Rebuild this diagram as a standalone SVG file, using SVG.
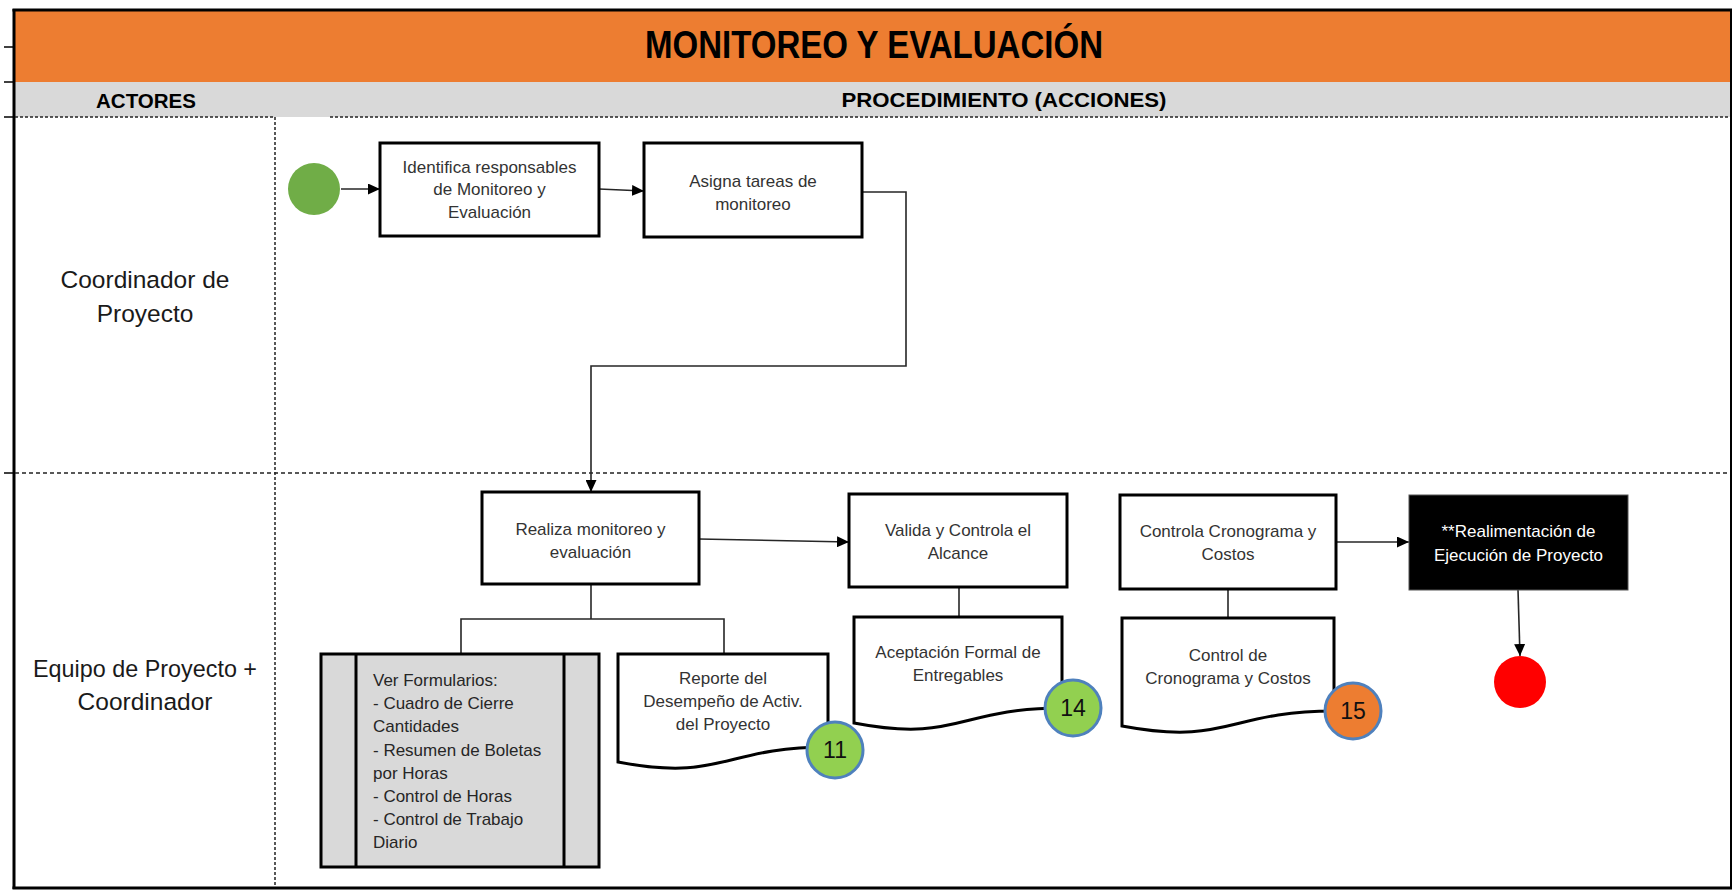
<svg xmlns="http://www.w3.org/2000/svg" width="1734" height="890" viewBox="0 0 1734 890">
  <style>
    .frame { stroke: #000; stroke-width: 3; fill: none; }
    .tick { stroke: #000; stroke-width: 1.5; }
    .dotted { stroke: #222; stroke-width: 1.5; stroke-dasharray: 3 2; fill: none; }
    .dashed { stroke: #222; stroke-width: 1.5; stroke-dasharray: 4 3; fill: none; }
    .box { fill: #fff; stroke: #000; stroke-width: 3; }
    .doc { fill: #fff; stroke: #000; stroke-width: 3; }
    .proc { fill: #d9d9d9; stroke: #000; stroke-width: 3; }
    .conn { stroke: #262626; stroke-width: 1.6; fill: none; }
    .badge { stroke: #4f81bd; stroke-width: 3; }
    .hdr { font-family: "Liberation Sans", Arial, sans-serif; font-weight: bold; fill: #000; text-anchor: middle; }
    .lane { font-family: "Liberation Sans", Arial, sans-serif; font-size: 24.5px; fill: #1a1a1a; text-anchor: middle; }
    .t { font-family: "Liberation Sans", Arial, sans-serif; font-size: 17px; fill: #333; text-anchor: middle; }
    .tl { font-family: "Liberation Sans", Arial, sans-serif; font-size: 17px; fill: #262626; }
    .num { font-family: "Liberation Sans", Arial, sans-serif; font-size: 23px; fill: #111; text-anchor: middle; }
  </style>
  <defs>
    <marker id="arrow" markerUnits="userSpaceOnUse" markerWidth="12" markerHeight="11" refX="12" refY="5.5" orient="auto">
      <path d="M0,0 L12,5.5 L0,11 Z" fill="#000"/>
    </marker>
  </defs>

  <rect width="1734" height="890" fill="#fff"/>

  <!-- header bands -->
  <g id="header">
    <rect x="14" y="10" width="1717" height="72" fill="#ed7d31"/>
    <rect x="14" y="82" width="1717" height="35" fill="#d9d9d9"/>
    <text class="hdr" x="874" y="58" font-size="38" textLength="458" lengthAdjust="spacingAndGlyphs">MONITOREO Y EVALUACIÓN</text>
    <text class="hdr" x="146" y="108" font-size="21" textLength="100" lengthAdjust="spacingAndGlyphs">ACTORES</text>
    <text class="hdr" x="1004" y="107" font-size="21" textLength="325" lengthAdjust="spacingAndGlyphs">PROCEDIMIENTO (ACCIONES)</text>
  </g>

  <!-- outer frame and row ticks -->
  <g id="frame">
    <line class="frame" x1="12.5" y1="10" x2="1732" y2="10"/>
    <line class="frame" x1="14" y1="9" x2="14" y2="889"/>
    <line class="frame" x1="12.5" y1="888" x2="1732" y2="888"/>
    <line x1="1731" y1="9" x2="1731" y2="889" stroke="#000" stroke-width="2"/>
    <line class="tick" x1="4" y1="47" x2="14" y2="47"/>
    <line class="tick" x1="4" y1="82" x2="14" y2="82"/>
    <line class="tick" x1="4" y1="117" x2="14" y2="117"/>
    <line class="tick" x1="4" y1="473" x2="14" y2="473"/>
  </g>

  <!-- swimlane dividers -->
  <g id="lanes">
    <line class="dotted" x1="15" y1="117" x2="275" y2="117"/>
    <line class="dotted" x1="330" y1="117" x2="1730" y2="117"/>
    <line class="dotted" x1="275" y1="117" x2="275" y2="887"/>
    <line class="dashed" x1="15" y1="473" x2="1730" y2="473"/>
    <text class="lane" x="145" y="288" textLength="169" lengthAdjust="spacingAndGlyphs">Coordinador de</text>
    <text class="lane" x="145" y="322">Proyecto</text>
    <text class="lane" x="145" y="677" textLength="224" lengthAdjust="spacingAndGlyphs">Equipo de Proyecto +</text>
    <text class="lane" x="145" y="710">Coordinador</text>
  </g>

  <!-- connectors -->
  <g id="connectors">
    <line class="conn" x1="341" y1="189" x2="380" y2="189" marker-end="url(#arrow)"/>
    <line class="conn" x1="599" y1="189" x2="644" y2="191" marker-end="url(#arrow)"/>
    <polyline class="conn" points="862,192 906,192 906,366 591,366 591,492" marker-end="url(#arrow)"/>
    <line class="conn" x1="699" y1="539" x2="849" y2="542" marker-end="url(#arrow)"/>
    <line class="conn" x1="1336" y1="542" x2="1409" y2="542" marker-end="url(#arrow)"/>
    <line class="conn" x1="1518" y1="590" x2="1520" y2="656" marker-end="url(#arrow)"/>
    <polyline class="conn" points="591,584 591,619"/>
    <polyline class="conn" points="461,654 461,619 724,619 724,654"/>
    <line class="conn" x1="959" y1="587" x2="959" y2="617"/>
    <line class="conn" x1="1228" y1="589" x2="1228" y2="618"/>
  </g>

  <!-- start and end events -->
  <g id="start">
    <circle cx="314" cy="189" r="26" fill="#70ad47"/>
  </g>
  <g id="end">
    <circle cx="1520" cy="682" r="26" fill="#ff0000"/>
  </g>

  <g id="identifica">
    <rect class="box" x="380" y="143" width="219" height="93"/>
    <text class="t" x="489.5" y="173">Identifica responsables</text>
    <text class="t" x="489.5" y="195">de Monitoreo y</text>
    <text class="t" x="489.5" y="218">Evaluación</text>
  </g>

  <g id="asigna">
    <rect class="box" x="644" y="143" width="218" height="94"/>
    <text class="t" x="753" y="187">Asigna tareas de</text>
    <text class="t" x="753" y="210">monitoreo</text>
  </g>

  <g id="realiza">
    <rect class="box" x="482" y="492" width="217" height="92"/>
    <text class="t" x="590.5" y="535">Realiza monitoreo y</text>
    <text class="t" x="590.5" y="558">evaluación</text>
  </g>

  <g id="valida">
    <rect class="box" x="849" y="494" width="218" height="93"/>
    <text class="t" x="958" y="536">Valida y Controla el</text>
    <text class="t" x="958" y="559">Alcance</text>
  </g>

  <g id="controla">
    <rect class="box" x="1120" y="495" width="216" height="94"/>
    <text class="t" x="1228" y="537">Controla Cronograma y</text>
    <text class="t" x="1228" y="560">Costos</text>
  </g>

  <g id="realimentacion">
    <rect x="1409" y="495" width="219" height="95" fill="#000" stroke="#555" stroke-width="1"/>
    <text class="t" x="1518.5" y="537" fill="#fff" style="fill:#fff">**Realimentación de</text>
    <text class="t" x="1518.5" y="561" style="fill:#fff">Ejecución de Proyecto</text>
  </g>

  <g id="formularios">
    <rect class="proc" x="321" y="654" width="278" height="213"/>
    <line x1="356" y1="654" x2="356" y2="867" stroke="#000" stroke-width="3"/>
    <line x1="564" y1="654" x2="564" y2="867" stroke="#000" stroke-width="3"/>
    <text class="tl" x="373" y="686">Ver Formularios:</text>
    <text class="tl" x="373" y="709">- Cuadro de Cierre</text>
    <text class="tl" x="373" y="732">Cantidades</text>
    <text class="tl" x="373" y="756">- Resumen de Boletas</text>
    <text class="tl" x="373" y="779">por Horas</text>
    <text class="tl" x="373" y="802">- Control de Horas</text>
    <text class="tl" x="373" y="825">- Control de Trabajo</text>
    <text class="tl" x="373" y="848">Diario</text>
  </g>

  <g id="reporte">
    <path class="doc" d="M618,654 H828 V747 C723,747 723,782 618,762 Z"/>
    <text class="t" x="723" y="684">Reporte del</text>
    <text class="t" x="723" y="707">Desempeño de Activ.</text>
    <text class="t" x="723" y="730">del Proyecto</text>
    <circle class="badge" cx="835" cy="750" r="28" fill="#92d050"/>
    <text class="num" x="835" y="758">11</text>
  </g>

  <g id="aceptacion">
    <path class="doc" d="M854,617 H1062 V708 C958,708 958,743 854,723 Z"/>
    <text class="t" x="958" y="658">Aceptación Formal de</text>
    <text class="t" x="958" y="681">Entregables</text>
    <circle class="badge" cx="1073" cy="708" r="28" fill="#92d050"/>
    <text class="num" x="1073" y="716">14</text>
  </g>

  <g id="control-doc">
    <path class="doc" d="M1122,618 H1334 V711 C1228,711 1228,746 1122,726 Z"/>
    <text class="t" x="1228" y="661">Control de</text>
    <text class="t" x="1228" y="684">Cronograma y Costos</text>
    <circle class="badge" cx="1353" cy="711" r="28" fill="#ed7d31"/>
    <text class="num" x="1353" y="719">15</text>
  </g>
</svg>
